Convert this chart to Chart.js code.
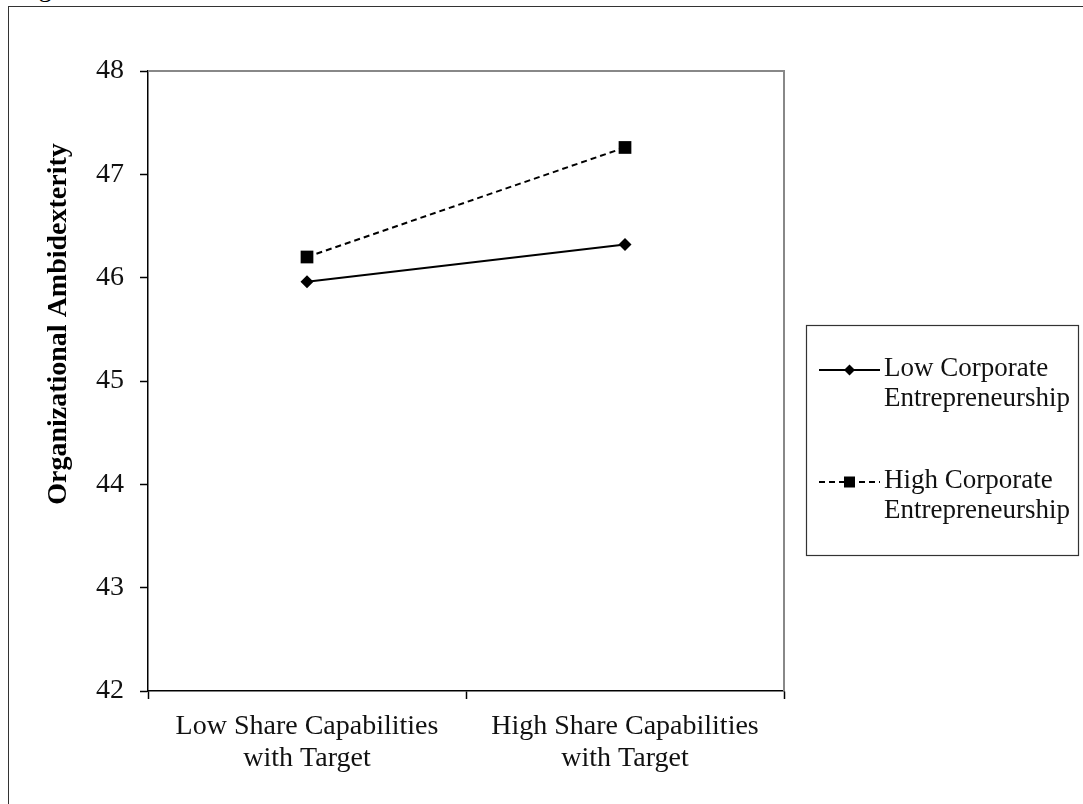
<!DOCTYPE html>
<html>
<head>
<meta charset="utf-8">
<script src="https://cdn.jsdelivr.net/npm/chart.js@4"></script>
<style>
  html, body { margin: 0; padding: 0; background: #fff; overflow: hidden; }
  #frame { position: absolute; left: 8px; top: 6px; width: 1200px; height: 900px; border: 1.5px solid #333; }
  #fig { position: absolute; left: 16px; top: -26px; font: 27px 'Liberation Serif', 'Times New Roman', serif; line-height: 27px; }
  canvas { position: absolute; left: 0; top: 0; }
</style>
</head>
<body>
<div id="fig">Figure</div>
<div id="frame"></div>
<canvas id="chart" width="1083" height="804"></canvas>
<script>
const categories = [["Low Share Capabilities", "with Target"], ["High Share Capabilities", "with Target"]];
const seriesNames = ["Low Corporate Entrepreneurship", "High Corporate Entrepreneurship"];
const lowCE = [45.96, 46.32];
const highCE = [46.20, 47.26];
const yTicks = [42, 43, 44, 45, 46, 47, 48];
const yTitle = "Organizational Ambidexterity";

const serif = "'Liberation Serif', 'Times New Roman', serif";

// grey top/right frame, rotated y title and the boxed legend
const extras = {
  id: "extras",
  afterDraw(chart) {
    const ctx = chart.ctx;
    const a = chart.chartArea;
    ctx.save();
    ctx.strokeStyle = "#888";
    ctx.lineWidth = 2;
    ctx.beginPath();
    ctx.moveTo(a.left, a.top);
    ctx.lineTo(a.right, a.top);
    ctx.lineTo(a.right, a.bottom);
    ctx.stroke();

    // y title
    ctx.save();
    ctx.translate(59, 324);
    ctx.rotate(-Math.PI / 2);
    ctx.fillStyle = "#000";
    ctx.font = "bold 28px " + serif;
    ctx.textAlign = "center";
    ctx.textBaseline = "middle";
    ctx.fillText(yTitle, 0, 0);
    ctx.restore();

    // legend
    ctx.strokeStyle = "#333";
    ctx.lineWidth = 1.2;
    ctx.strokeRect(806.5, 325.5, 272, 230);
    const rows = [370, 482];
    chart.data.datasets.forEach((ds, i) => {
      const y = rows[i];
      ctx.strokeStyle = ds.borderColor;
      ctx.lineWidth = 2;
      ctx.setLineDash(ds.borderDash || []);
      ctx.beginPath();
      ctx.moveTo(819, y);
      ctx.lineTo(880, y);
      ctx.stroke();
      ctx.setLineDash([]);
      ctx.fillStyle = ds.backgroundColor;
      ctx.beginPath();
      if (ds.pointStyle === "rectRot") {
        ctx.moveTo(849.5, y - 5.5);
        ctx.lineTo(855, y);
        ctx.lineTo(849.5, y + 5.5);
        ctx.lineTo(844, y);
        ctx.closePath();
      } else {
        ctx.rect(844, y - 5.5, 11, 11);
      }
      ctx.fill();
      const words = ds.label.split(" ");
      ctx.fillStyle = "#111";
      ctx.font = "27px " + serif;
      ctx.textAlign = "left";
      ctx.textBaseline = "middle";
      ctx.fillText(words.slice(0, -1).join(" "), 884, y - 1);
      ctx.fillText(words[words.length - 1], 884, y + 29);
    });
    ctx.restore();
  }
};

new Chart(document.getElementById("chart"), {
  type: "line",
  data: {
    labels: categories,
    datasets: [
      {
        label: seriesNames[0],
        data: lowCE,
        borderColor: "#000",
        backgroundColor: "#000",
        borderWidth: 2,
        pointStyle: "rectRot",
        pointRadius: 6.5,
        pointBorderWidth: 0,
      },
      {
        label: seriesNames[1],
        data: highCE,
        borderColor: "#000",
        backgroundColor: "#000",
        borderWidth: 2,
        borderDash: [6, 4],
        pointStyle: "rect",
        pointRadius: 9,
        pointBorderWidth: 0,
      },
    ],
  },
  options: {
    responsive: false,
    animation: false,
    layout: { padding: { left: 0, top: 71, right: 299, bottom: 0 } },
    plugins: { legend: { display: false }, tooltip: { enabled: false } },
    scales: {
      x: {
        offset: true,
        grid: { offset: true, drawOnChartArea: false, tickLength: 8, tickColor: "#000", tickWidth: 1.5 },
        border: { color: "#000", width: 1.5 },
        ticks: { color: "#111", font: { family: serif, size: 28, lineHeight: 1.17 }, padding: 11, maxRotation: 0 },
        afterFit(scale) { scale.height = 113; },
      },
      y: {
        min: yTicks[0],
        max: yTicks[yTicks.length - 1],
        grid: { drawOnChartArea: false, tickLength: 8, tickColor: "#000", tickWidth: 1.5 },
        border: { color: "#000", width: 1.5 },
        ticks: { stepSize: 1, color: "#111", font: { family: serif, size: 28 }, padding: 16 },
        afterFit(scale) { scale.width = 148; },
      },
    },
  },
  plugins: [extras],
});
</script>
</body>
</html>
